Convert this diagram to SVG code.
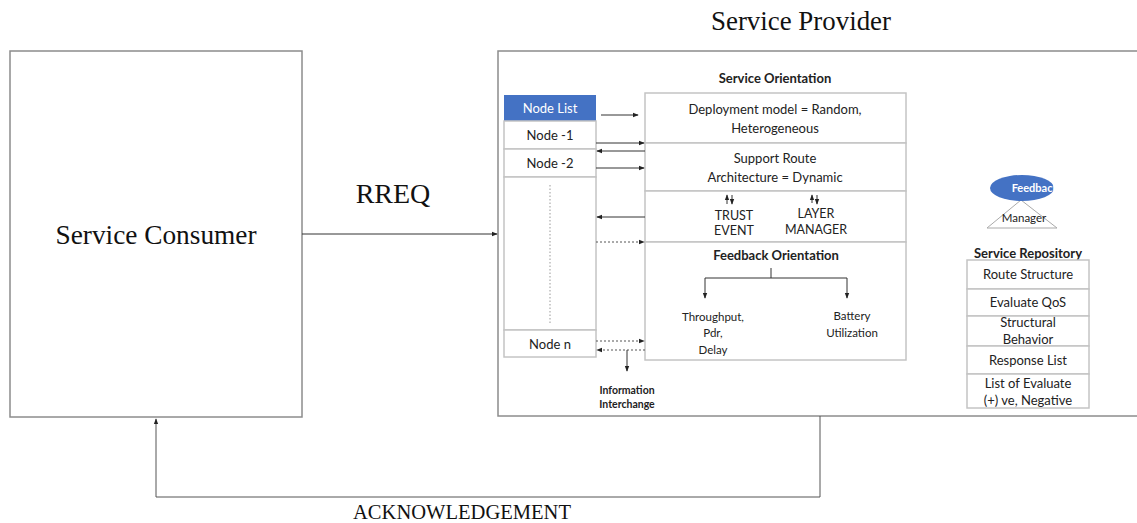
<svg xmlns="http://www.w3.org/2000/svg" width="1137" height="523" viewBox="0 0 1137 523">
<defs>
<style>
.serif{font-family:"Liberation Serif","Times New Roman",serif;fill:#111}
.sans{font-family:Lato,"Open Sans","Liberation Sans",sans-serif;fill:#222}
.b{font-weight:bold}
.outer{fill:#fff;stroke:#8c8c8c;stroke-width:1.5}
.inner{fill:#fff;stroke:#c4c4c4;stroke-width:1.5}
.ln{fill:none;stroke:#333;stroke-width:1}
.dot{fill:none;stroke:#555;stroke-width:1;stroke-dasharray:2,2}
</style>
<marker id="ah" viewBox="0 0 8 8" refX="7" refY="4" markerWidth="6" markerHeight="6" orient="auto-start-reverse" markerUnits="userSpaceOnUse">
<path d="M0,1 L8,4 L0,7 z" fill="#222"/>
</marker>
</defs>
<rect width="1137" height="523" fill="#fff"/>

<g id="consumer">
<rect class="outer" x="10" y="51" width="292" height="366"/>
<text class="serif" x="156" y="244" font-size="28" text-anchor="middle" textLength="201" lengthAdjust="spacingAndGlyphs">Service Consumer</text>
</g>

<g id="provider">
<rect class="outer" x="498" y="51" width="645" height="365"/>
<text class="serif" x="801" y="30" font-size="27" text-anchor="middle" textLength="180" lengthAdjust="spacingAndGlyphs">Service Provider</text>
</g>

<g id="node-list">
<rect x="504" y="95" width="92" height="26" fill="#4472c4"/>
<text x="550" y="113" font-size="13" text-anchor="middle" class="sans" style="fill:#fff">Node List</text>
<rect class="inner" x="504" y="121" width="92" height="28"/>
<text class="sans" x="550" y="140" font-size="13" text-anchor="middle">Node -1</text>
<rect class="inner" x="504" y="149" width="92" height="28"/>
<text class="sans" x="550" y="168" font-size="13" text-anchor="middle">Node -2</text>
<rect class="inner" x="504" y="177" width="92" height="153"/>
<line class="dot" x1="550" y1="185" x2="550" y2="325" style="stroke:#999;stroke-dasharray:1.5,2"/>
<rect class="inner" x="504" y="330" width="92" height="27"/>
<text class="sans" x="550" y="349" font-size="13" text-anchor="middle">Node n</text>
</g>

<g id="service-orientation">
<text class="sans b" x="775" y="83" font-size="13" text-anchor="middle">Service Orientation</text>
<rect class="inner" x="645" y="93" width="261" height="50"/>
<text class="sans" x="775" y="114" font-size="13" text-anchor="middle">Deployment model = Random,</text>
<text class="sans" x="775" y="133" font-size="13" text-anchor="middle">Heterogeneous</text>
<rect class="inner" x="645" y="143" width="261" height="48"/>
<text class="sans" x="775" y="163" font-size="13" text-anchor="middle">Support Route</text>
<text class="sans" x="775" y="182" font-size="13" text-anchor="middle">Architecture = Dynamic</text>
<rect class="inner" x="645" y="191" width="261" height="51"/>
<text class="sans" x="734" y="220" font-size="12.5" text-anchor="middle">TRUST</text>
<text class="sans" x="734" y="235" font-size="12.5" text-anchor="middle">EVENT</text>
<text class="sans" x="816" y="218" font-size="12.5" text-anchor="middle">LAYER</text>
<text class="sans" x="816" y="234" font-size="12.5" text-anchor="middle">MANAGER</text>
<line class="ln" x1="727" y1="204" x2="727" y2="195" marker-end="url(#ah)"/>
<line class="ln" x1="732" y1="195" x2="732" y2="204" marker-end="url(#ah)"/>
<line class="ln" x1="812" y1="203" x2="812" y2="195" marker-end="url(#ah)"/>
<line class="ln" x1="817" y1="195" x2="817" y2="204" marker-end="url(#ah)"/>
</g>

<g id="feedback-orientation">
<rect class="inner" x="645" y="242" width="261" height="118"/>
<text class="sans b" x="776" y="260" font-size="13" text-anchor="middle">Feedback Orientation</text>
<path class="ln" d="M771,268 V278 M705,278 H847"/>
<line class="ln" x1="705" y1="278" x2="705" y2="298" marker-end="url(#ah)"/>
<line class="ln" x1="847" y1="278" x2="847" y2="298" marker-end="url(#ah)"/>
<text class="sans" x="713" y="321" font-size="11.5" text-anchor="middle">Throughput,</text>
<text class="sans" x="713" y="337" font-size="11.5" text-anchor="middle">Pdr,</text>
<text class="sans" x="713" y="354" font-size="11.5" text-anchor="middle">Delay</text>
<text class="sans" x="852" y="320" font-size="11.5" text-anchor="middle">Battery</text>
<text class="sans" x="852" y="337" font-size="11.5" text-anchor="middle">Utilization</text>
</g>

<g id="feedback-manager">
<path d="M1021,200 L987,228 H1057 Z" fill="#fff" stroke="#aaa" stroke-width="1"/>
<text class="sans" x="1024" y="222" font-size="11.5" text-anchor="middle">Manager</text>
<ellipse cx="1022" cy="188" rx="32" ry="13" fill="#4472c4"/>
<clipPath id="fbclip"><rect x="990" y="175" width="64" height="26"/></clipPath>
<text class="sans b" x="1035" y="192" font-size="11" text-anchor="middle" style="fill:#fff" clip-path="url(#fbclip)">Feedback</text>
</g>

<g id="service-repository">
<text class="sans b" x="1028" y="258" font-size="13" text-anchor="middle">Service Repository</text>
<rect class="inner" x="967" y="260" width="122" height="29"/>
<text class="sans" x="1028" y="279" font-size="13" text-anchor="middle">Route Structure</text>
<rect class="inner" x="967" y="289" width="122" height="27"/>
<text class="sans" x="1028" y="307" font-size="13" text-anchor="middle">Evaluate QoS</text>
<rect class="inner" x="967" y="316" width="122" height="30"/>
<text class="sans" x="1028" y="327" font-size="13" text-anchor="middle">Structural</text>
<text class="sans" x="1028" y="344" font-size="13" text-anchor="middle">Behavior</text>
<rect class="inner" x="967" y="346" width="122" height="28"/>
<text class="sans" x="1028" y="365" font-size="13" text-anchor="middle">Response List</text>
<rect class="inner" x="967" y="374" width="122" height="34"/>
<text class="sans" x="1028" y="388" font-size="13" text-anchor="middle">List of Evaluate</text>
<text class="sans" x="1028" y="405" font-size="13" text-anchor="middle">(+) ve, Negative</text>
</g>

<g id="info-interchange">
<text class="sans b" x="627" y="394" font-size="10.5" text-anchor="middle">Information</text>
<text class="sans b" x="627" y="408" font-size="10.5" text-anchor="middle">Interchange</text>
</g>

<g id="connectors">
<line class="ln" x1="302" y1="234" x2="497" y2="234" marker-end="url(#ah)"/>
<text class="serif" x="393" y="203" font-size="28" text-anchor="middle">RREQ</text>
<path class="ln" d="M820,416 V497 H156 V419" marker-end="url(#ah)" style="stroke:#555"/>
<text class="serif" x="462" y="519" font-size="21" text-anchor="middle" textLength="218" lengthAdjust="spacingAndGlyphs">ACKNOWLEDGEMENT</text>
<line class="ln" x1="601" y1="115" x2="638" y2="115" marker-end="url(#ah)"/>
<line class="ln" x1="596" y1="143" x2="644" y2="143" marker-end="url(#ah)"/>
<line class="ln" x1="645" y1="151" x2="597" y2="151" marker-end="url(#ah)"/>
<line class="ln" x1="596" y1="168" x2="644" y2="168" marker-end="url(#ah)"/>
<line class="ln" x1="645" y1="217" x2="597" y2="217" marker-end="url(#ah)"/>
<line class="dot" x1="596" y1="242" x2="644" y2="242" marker-end="url(#ah)"/>
<line class="dot" x1="596" y1="341" x2="644" y2="341" marker-end="url(#ah)"/>
<line class="dot" x1="645" y1="350" x2="597" y2="350" marker-end="url(#ah)"/>
<line class="ln" x1="627" y1="350" x2="627" y2="371" marker-end="url(#ah)"/>
</g>
</svg>
